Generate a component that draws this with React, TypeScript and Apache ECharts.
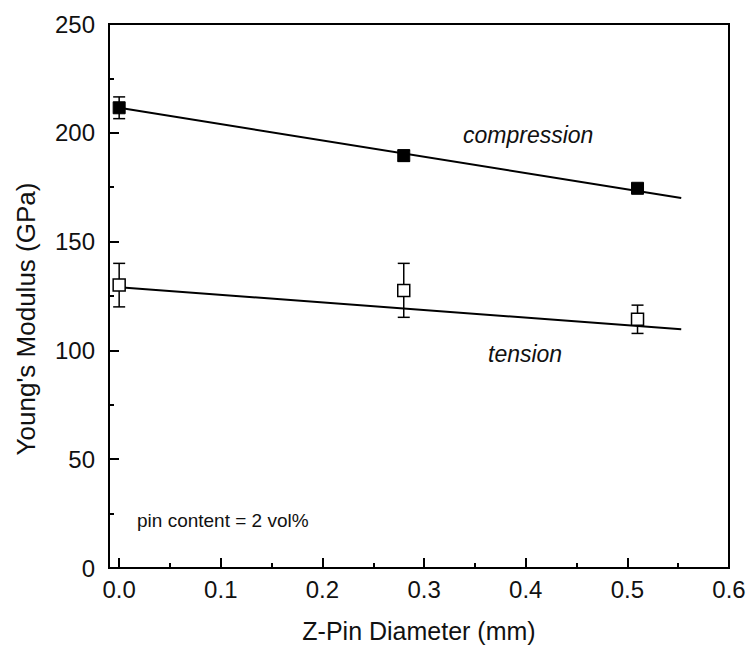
import React, { useEffect, useRef } from "react";
import * as echarts from "echarts";

const diameters = [0, 0.28, 0.51];
const compression = [211.5, 189.5, 174.5];
const compressionErr = [5, 2.5, 2];
const tension = [130, 127.5, 114.3];
const tensionErrLow = [10, 12.3, 6.5];
const tensionErrHigh = [10, 12.5, 6.5];
const compressionFitX = [0, 0.553];
const compressionFitY = [211.5, 170];
const tensionFitX = [0, 0.553];
const tensionFitY = [129, 109.7];
const xTickValues = [0, 0.1, 0.2, 0.3, 0.4, 0.5, 0.6];
const xMinorTickValues = [0.05, 0.15, 0.25, 0.35, 0.45, 0.55];

const FONT = "'Liberation Sans', Arial, Helvetica, sans-serif";

function errorBarSeries(lo: number[], hi: number[], vals: number[]) {
  const data = diameters.map((x, i) => [x, vals[i] - lo[i], vals[i] + hi[i]]);
  return {
    type: "custom",
    z: 2,
    silent: true,
    data,
    renderItem: (params: any, api: any) => {
      const x = api.value(0);
      const p1 = api.coord([x, api.value(1)]);
      const p2 = api.coord([x, api.value(2)]);
      const w = 6;
      const style = { stroke: "#000", lineWidth: 1.5, fill: "none" };
      return {
        type: "group",
        children: [
          { type: "line", shape: { x1: p1[0], y1: p1[1], x2: p2[0], y2: p2[1] }, style },
          { type: "line", shape: { x1: p1[0] - w, y1: p1[1], x2: p1[0] + w, y2: p1[1] }, style },
          { type: "line", shape: { x1: p2[0] - w, y1: p2[1], x2: p2[0] + w, y2: p2[1] }, style },
        ],
      };
    },
  };
}

export default function App() {
  const ref = useRef<HTMLDivElement>(null);
  useEffect(() => {
    if (!ref.current) return;
    document.body.style.margin = "0";
    const chart = echarts.init(ref.current, null, { renderer: "svg" });
    chart.setOption({
      animation: false,
      backgroundColor: "#fff",
      grid: {
        left: 109,
        top: 24,
        right: 20,
        bottom: 82,
        show: true,
        borderColor: "#000",
        borderWidth: 2,
        backgroundColor: "transparent",
      },
      xAxis: [
        {
          type: "value",
          min: -0.01,
          max: 0.6,
          splitNumber: 6,
          name: "Z-Pin Diameter (mm)",
          nameLocation: "middle",
          nameGap: 50,
          nameTextStyle: { fontFamily: FONT, fontSize: 25, color: "#111" },
          axisLine: { show: true, onZero: false, lineStyle: { color: "#000", width: 2 } },
          axisTick: {
            show: true,
            inside: true,
            length: 10,
            customValues: xTickValues,
            lineStyle: { color: "#000", width: 2 },
          },
          axisLabel: {
            customValues: xTickValues,
            formatter: (v: number) => v.toFixed(1),
            fontFamily: FONT,
            fontSize: 24,
            color: "#111",
            margin: 9,
          },
          splitLine: { show: false },
        },
        {
          type: "value",
          min: -0.01,
          max: 0.6,
          position: "bottom",
          axisLine: { show: false, onZero: false },
          axisTick: {
            show: true,
            inside: true,
            length: 5,
            customValues: xMinorTickValues,
            lineStyle: { color: "#000", width: 2 },
          },
          axisLabel: { show: false },
          splitLine: { show: false },
        },
      ],
      yAxis: {
        type: "value",
        min: 0,
        max: 250,
        interval: 50,
        axisLine: { show: true, onZero: false, lineStyle: { color: "#000", width: 2 } },
        axisTick: { show: true, inside: true, length: 10, lineStyle: { color: "#000", width: 2 } },
        minorTick: { show: true, splitNumber: 2, length: 5, lineStyle: { color: "#000", width: 2 } },
        axisLabel: { fontFamily: FONT, fontSize: 24, color: "#111", margin: 14 },
        splitLine: { show: false },
        minorSplitLine: { show: false },
      },
      graphic: [
        {
          type: "text",
          x: 26,
          y: 319,
          rotation: Math.PI / 2,
          style: {
            text: "Young's Modulus (GPa)",
            fontFamily: FONT,
            fontSize: 26,
            fill: "#111",
            align: "center",
            verticalAlign: "middle",
          },
        },
        {
          type: "text",
          x: 463,
          y: 135,
          style: {
            text: "compression",
            fontFamily: FONT,
            fontSize: 23,
            fontStyle: "italic",
            fill: "#111",
            align: "left",
            verticalAlign: "middle",
          },
        },
        {
          type: "text",
          x: 488,
          y: 354,
          style: {
            text: "tension",
            fontFamily: FONT,
            fontSize: 23,
            fontStyle: "italic",
            fill: "#111",
            align: "left",
            verticalAlign: "middle",
          },
        },
        {
          type: "text",
          x: 137,
          y: 520,
          style: {
            text: "pin content = 2 vol%",
            fontFamily: FONT,
            fontSize: 19,
            fill: "#111",
            align: "left",
            verticalAlign: "middle",
          },
        },
      ],
      series: [
        {
          type: "line",
          data: compressionFitX.map((x, i) => [x, compressionFitY[i]]),
          symbol: "none",
          lineStyle: { color: "#000", width: 2 },
          z: 1,
        },
        {
          type: "line",
          data: tensionFitX.map((x, i) => [x, tensionFitY[i]]),
          symbol: "none",
          lineStyle: { color: "#000", width: 2 },
          z: 1,
        },
        errorBarSeries(compressionErr, compressionErr, compression),
        errorBarSeries(tensionErrLow, tensionErrHigh, tension),
        {
          type: "scatter",
          data: diameters.map((x, i) => [x, compression[i]]),
          symbol: "rect",
          symbolSize: 12,
          itemStyle: { color: "#000", borderColor: "#000", borderWidth: 1, opacity: 1 },
          z: 5,
        },
        {
          type: "scatter",
          data: diameters.map((x, i) => [x, tension[i]]),
          symbol: "rect",
          symbolSize: 12,
          itemStyle: { color: "#fff", borderColor: "#000", borderWidth: 1.5, opacity: 1 },
          z: 5,
        },
      ],
    });
    return () => chart.dispose();
  }, []);
  return <div ref={ref} style={{ width: 749, height: 650 }} />;
}
